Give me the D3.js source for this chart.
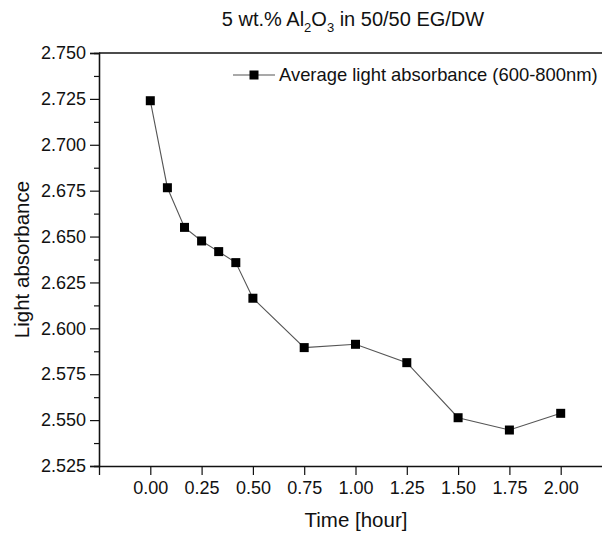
<!DOCTYPE html>
<html>
<head>
<meta charset="utf-8">
<script src="https://cdn.jsdelivr.net/npm/d3@7/dist/d3.min.js"></script>
<style>
  body { margin: 0; background: #fff; }
  svg text { font-family: "Liberation Sans", Arial, sans-serif; fill: #111; }
</style>
</head>
<body>
<div id="chart"></div>
<script>
// data
const timeHours = [0, 0.0833, 0.1667, 0.25, 0.3333, 0.4167, 0.5, 0.75, 1.0, 1.25, 1.5, 1.75, 2.0];
const absorbance = [2.724, 2.6766, 2.655, 2.6476, 2.6418, 2.6358, 2.6164, 2.5895, 2.5913, 2.5813, 2.5513, 2.5446, 2.5537];
const xTicks = [0, 0.25, 0.5, 0.75, 1.0, 1.25, 1.5, 1.75, 2.0];
const yTicks = [2.525, 2.55, 2.575, 2.6, 2.625, 2.65, 2.675, 2.7, 2.725, 2.75];
const yMinorTicks = [2.5375, 2.5625, 2.5875, 2.6125, 2.6375, 2.6625, 2.6875, 2.7125, 2.7375];
const legendLabel = "Average light absorbance (600-800nm)";

const W = 602, H = 535;
const margin = { top: 53, right: -10, bottom: 69, left: 99 };
const width = W - margin.left - margin.right,
      height = H - margin.top - margin.bottom;

const svg = d3.select("#chart").append("svg")
    .attr("width", W)
    .attr("height", H);

const g = svg.append("g")
    .attr("transform", `translate(${margin.left},${margin.top})`);

const x = d3.scaleLinear().domain([-0.25, 2.25]).range([0, width]);
const y = d3.scaleLinear().domain([2.525, 2.75]).range([height, 0]);

// frame: top line
g.append("line")
    .attr("x1", 0).attr("x2", width)
    .attr("y1", 0).attr("y2", 0)
    .attr("stroke", "#111").attr("stroke-width", 1.3);

// axes
g.append("g")
    .attr("transform", `translate(0,${height})`)
    .call(d3.axisBottom(x).tickValues(xTicks).tickFormat(d3.format(".2f")).tickSizeOuter(0).tickSize(9).tickPadding(6));

g.append("g")
    .call(d3.axisLeft(y).tickValues(yTicks).tickFormat(d3.format(".3f")).tickSizeOuter(0).tickSize(9).tickPadding(4));

g.append("g")
    .call(d3.axisLeft(y).tickValues(yMinorTicks).tickFormat("").tickSizeOuter(0).tickSize(5));

g.selectAll(".domain").attr("stroke", "#111").attr("stroke-width", 1.3);
g.selectAll(".tick line").attr("stroke", "#111").attr("stroke-width", 1.2);
g.selectAll(".tick text")
    .style("font-family", "'Liberation Sans', Arial, sans-serif")
    .style("font-size", "18px")
    .attr("fill", "#111");

// series
const pts = timeHours.map((t, i) => ({ t, v: absorbance[i] }));
const line = d3.line().x(d => x(d.t)).y(d => y(d.v));

g.append("path")
    .datum(pts)
    .attr("fill", "none")
    .attr("stroke", "#555")
    .attr("stroke-width", 1.1)
    .attr("d", line);

const ms = 9;
g.selectAll("rect.pt")
    .data(pts)
    .join("rect")
    .attr("class", "pt")
    .attr("x", d => x(d.t) - ms / 2)
    .attr("y", d => y(d.v) - ms / 2)
    .attr("width", ms)
    .attr("height", ms)
    .attr("fill", "#000");

// legend
const lg = svg.append("g").attr("transform", "translate(233,75)");
lg.append("line").attr("x1", 0).attr("x2", 42).attr("y1", 0).attr("y2", 0)
    .attr("stroke", "#555").attr("stroke-width", 1.1);
lg.append("rect").attr("x", 21 - ms / 2).attr("y", -ms / 2).attr("width", ms).attr("height", ms).attr("fill", "#000");
lg.append("text").attr("x", 46).attr("y", 0).attr("dy", "0.35em")
    .style("font-size", "18.4px").text(legendLabel);

// title
const title = svg.append("text")
    .attr("x", 353).attr("y", 26)
    .attr("text-anchor", "middle")
    .style("font-size", "20px");
title.append("tspan").text("5 wt.% Al");
title.append("tspan").attr("dy", 6).style("font-size", "13px").text("2");
title.append("tspan").attr("dy", -6).text("O");
title.append("tspan").attr("dy", 6).style("font-size", "13px").text("3");
title.append("tspan").attr("dy", -6).text(" in 50/50 EG/DW");

// axis titles
svg.append("text")
    .attr("x", 356).attr("y", 527)
    .attr("text-anchor", "middle")
    .style("font-size", "20.5px")
    .text("Time [hour]");

svg.append("text")
    .attr("transform", `translate(29,${margin.top + height / 2}) rotate(-90)`)
    .attr("text-anchor", "middle")
    .style("font-size", "20.5px")
    .text("Light absorbance");
</script>
</body>
</html>
